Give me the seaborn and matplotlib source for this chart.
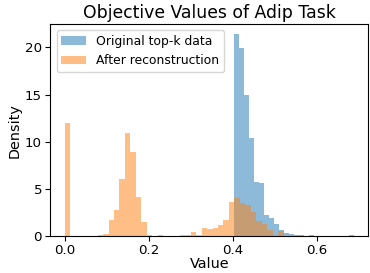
import numpy as np
import pandas as pd
import seaborn as sns
import matplotlib.pyplot as plt

# density per bin
orig_range = (0.4037, 0.688)
orig_density = [21.4, 19.9, 14.9, 10.4, 5.76, 5.58, 2.19, 1.94, 1.24, 0.6,
                0.35, 0.18, 0.07, 0.07, 0.0, 0.07, 0.0, 0.0, 0.0, 0.0,
                0.0, 0.0, 0.0, 0.07]

recon_range = (0.0, 0.5212)
recon_density = [12.0, 0.0, 0.0, 0.0, 0.0, 0.0, 0.07, 0.25, 1.66, 2.72,
                 6.1, 10.9, 8.94, 4.1, 1.52, 0.15, 0.0, 0.07, 0.0, 0.0,
                 0.0, 0.07, 0.15, 0.45, 0.12, 0.85, 0.78, 0.85, 1.17, 1.66,
                 3.64, 4.0, 3.46, 3.32, 2.58, 1.59, 1.3, 0.6, 0.0, 0.5]

labels = ["Original top-k data", "After reconstruction"]


def to_frame(rng, dens):
    edges = np.linspace(rng[0], rng[1], len(dens) + 1)
    centers = (edges[:-1] + edges[1:]) / 2
    return pd.DataFrame({"value": centers, "density": dens}), list(edges)


fig, ax = plt.subplots(figsize=(3.7, 2.73), dpi=100)

df1, e1 = to_frame(orig_range, orig_density)
df2, e2 = to_frame(recon_range, recon_density)
sns.histplot(data=df1, x="value", weights="density", bins=e1, color="tab:blue",
             alpha=0.5, linewidth=0, label=labels[0], ax=ax)
sns.histplot(data=df2, x="value", weights="density", bins=e2, color="tab:orange",
             alpha=0.5, linewidth=0, label=labels[1], ax=ax)

ax.set_xlabel("Value", fontsize=10.4, labelpad=0)
ax.set_ylabel("Density", fontsize=10.4, labelpad=2)
ax.set_title("Objective Values of Adip Task", fontsize=12.4, pad=4)
ax.tick_params(labelsize=9.6, pad=2.5)
ax.legend(loc="upper left", fontsize=8.9)

fig.subplots_adjust(left=0.136, right=0.995, top=0.912, bottom=0.135)
fig.savefig("out.png", dpi=100)
